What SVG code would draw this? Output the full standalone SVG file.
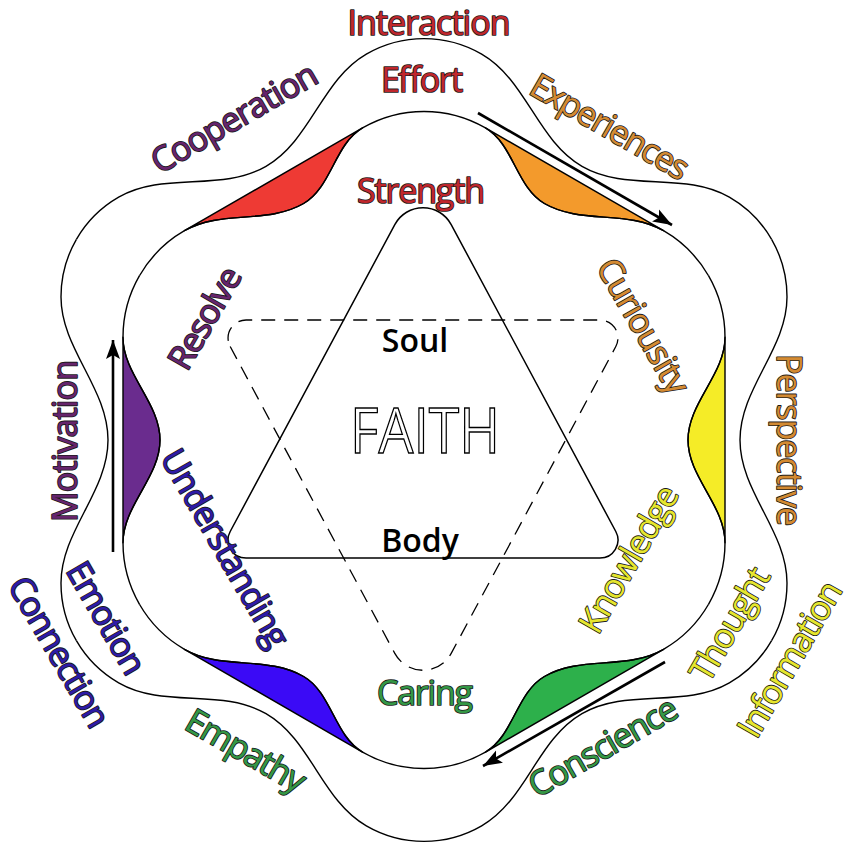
<svg xmlns="http://www.w3.org/2000/svg" width="856" height="846" viewBox="0 0 856 846">
<defs>
<style>
.ln{fill:none;stroke:#000;stroke-width:1.4}
.lens{stroke:#000;stroke-width:1.4;stroke-linejoin:round}
.tri{fill:none;stroke:#000;stroke-width:1.5}
.dash{fill:none;stroke:#000;stroke-width:1.3;stroke-dasharray:14 9}
.arr{fill:none;stroke:#000;stroke-width:2.6}
.lbl{font-family:"Open Sans","Noto Sans","Liberation Sans",sans-serif;font-size:34px;stroke:#1a1a1a;stroke-width:1.7;paint-order:stroke;stroke-linejoin:round;text-anchor:middle}
.r{fill:#C0272D}.p{fill:#66246C}.o{fill:#D38A32}.y{fill:#E6E62E}.g{fill:#349746}.b{fill:#2E1BA6}
.core{font-family:"Open Sans","Noto Sans","Liberation Sans",sans-serif;text-anchor:middle}
</style>
<marker id="ah" markerWidth="20" markerHeight="16" refX="19" refY="8" orient="auto" markerUnits="userSpaceOnUse">
<path d="M0,1 L19,8 L0,15 L4,8 Z" fill="#000"/>
</marker>
<path id="outer" class="ln" d="M347.6,-200.7 A115.3,115.3 0 0 1 363,-143 C363,-91 316,-52 316,0 C316,52 363,91 363,143 A115.3,115.3 0 0 1 347.6,200.7"/>
</defs>
<rect width="856" height="846" fill="#fff"/>

<g id="ring" transform="translate(424,440)">
 <g id="side-right">
  <path class="lens" fill="#F5EC27" d="M301,-102.8 C301,-65.4 264,-37.4 264,0 C264,37.4 301,65.4 301,102.8 Z"/>
  <path class="ln" d="M284.5,-164.3 A123,123 0 0 1 301,-102.8 C301,-65.4 264,-37.4 264,0 C264,37.4 301,65.4 301,102.8 A123,123 0 0 1 284.5,164.3"/>
  <use href="#outer"/>
 </g>
 <g id="side-upper-right" transform="rotate(-60)">
  <path class="lens" fill="#F39A2C" d="M301,-102.8 C301,-70.5 265,-46.3 265,-14 C265,28.4 301,60.4 301,102.8 Z"/>
  <path class="ln" d="M284.5,-164.3 A123,123 0 0 1 301,-102.8 C301,-70.5 265,-46.3 265,-14 C265,28.4 301,60.4 301,102.8 A123,123 0 0 1 284.5,164.3"/>
  <use href="#outer"/>
 </g>
 <g id="side-upper-left" transform="rotate(-120)">
  <path class="lens" fill="#EE3A34" d="M301,-102.8 C301,-60.4 265,-28.4 265,14 C265,46.3 301,70.5 301,102.8 Z"/>
  <path class="ln" d="M284.5,-164.3 A123,123 0 0 1 301,-102.8 C301,-60.4 265,-28.4 265,14 C265,46.3 301,70.5 301,102.8 A123,123 0 0 1 284.5,164.3"/>
  <use href="#outer"/>
 </g>
 <g id="side-left" transform="rotate(180)">
  <path class="lens" fill="#6A2C8E" d="M301,-102.8 C301,-65.4 264,-37.4 264,0 C264,37.4 301,65.4 301,102.8 Z"/>
  <path class="ln" d="M284.5,-164.3 A123,123 0 0 1 301,-102.8 C301,-65.4 264,-37.4 264,0 C264,37.4 301,65.4 301,102.8 A123,123 0 0 1 284.5,164.3"/>
  <use href="#outer"/>
 </g>
 <g id="side-lower-left" transform="rotate(120)">
  <path class="lens" fill="#3B0AF6" d="M301,-102.8 C301,-70.5 265,-46.3 265,-14 C265,28.4 301,60.4 301,102.8 Z"/>
  <path class="ln" d="M284.5,-164.3 A123,123 0 0 1 301,-102.8 C301,-70.5 265,-46.3 265,-14 C265,28.4 301,60.4 301,102.8 A123,123 0 0 1 284.5,164.3"/>
  <use href="#outer"/>
 </g>
 <g id="side-lower-right" transform="rotate(60)">
  <path class="lens" fill="#2DB04B" d="M301,-102.8 C301,-60.4 265,-28.4 265,14 C265,46.3 301,70.5 301,102.8 Z"/>
  <path class="ln" d="M284.5,-164.3 A123,123 0 0 1 301,-102.8 C301,-60.4 265,-28.4 265,14 C265,46.3 301,70.5 301,102.8 A123,123 0 0 1 284.5,164.3"/>
  <use href="#outer"/>
 </g>
</g>

<g id="triangle-solid">
 <path class="tri" d="M230.2,531.5 L394.8,224.6 A32,32 0 0 1 451.2,224.6 L615.8,531.5 A18,18 0 0 1 599.9,558 L246.1,558 A18,18 0 0 1 230.2,531.5 Z"/>
</g>
<g id="triangle-dashed">
 <path class="dash" d="M230.2,346.5 L394.8,653.4 A32,32 0 0 0 451.2,653.4 L615.8,346.5 A18,18 0 0 0 599.9,320 L246.1,320 A18,18 0 0 0 230.2,346.5 Z"/>
</g>

<g id="connectors">
 <path class="arr" d="M478,113 L672,225" marker-end="url(#ah)"/>
 <path class="arr" d="M113,552 L113,340" marker-end="url(#ah)"/>
 <path class="arr" d="M665,662 L483,766" marker-end="url(#ah)"/>
</g>

<g id="labels">
 <g id="t-interaction"><text class="lbl r" x="429" y="35" textLength="163">Interaction</text></g>
 <g id="t-effort"><text class="lbl r" x="422" y="92" textLength="82">Effort</text></g>
 <g id="t-strength"><text class="lbl r" x="421" y="203" textLength="128">Strength</text></g>
 <g id="t-cooperation"><text class="lbl p" transform="translate(240,128) rotate(-30)" textLength="186">Cooperation</text></g>
 <g id="t-experiences"><text class="lbl o" transform="translate(604,137) rotate(30)" textLength="177">Experiences</text></g>
 <g id="t-resolve"><text class="lbl p" transform="translate(215,324) rotate(-60)" textLength="112">Resolve</text></g>
 <g id="t-curiousity"><text class="lbl o" transform="translate(633,332) rotate(60)" textLength="150">Curiousity</text></g>
 <g id="t-perspective"><text class="lbl o" transform="translate(777,440) rotate(90)" textLength="172">Perspective</text></g>
 <g id="t-motivation"><text class="lbl p" transform="translate(77,441) rotate(-90)" textLength="162">Motivation</text></g>
 <g id="t-understanding"><text class="lbl b" transform="translate(215,554) rotate(60)" textLength="222">Understanding</text></g>
 <g id="t-knowledge"><text class="lbl y" transform="translate(639,565) rotate(-60)" textLength="164">Knowledge</text></g>
 <g id="t-thought"><text class="lbl y" transform="translate(740,630) rotate(-60)" textLength="125">Thought</text></g>
 <g id="t-information"><text class="lbl y" transform="translate(800,665) rotate(-60)" textLength="174">Information</text></g>
 <g id="t-emotion"><text class="lbl b" transform="translate(96,624) rotate(60)" textLength="124">Emotion</text></g>
 <g id="t-connection"><text class="lbl b" transform="translate(49,658) rotate(60)" textLength="168">Connection</text></g>
 <g id="t-empathy"><text class="lbl g" transform="translate(240,761) rotate(30)" textLength="132">Empathy</text></g>
 <g id="t-caring"><text class="lbl g" x="425" y="705" textLength="96">Caring</text></g>
 <g id="t-conscience"><text class="lbl g" transform="translate(609,757) rotate(-30)" textLength="166">Conscience</text></g>
 <g id="t-soul"><text class="core" x="415" y="352" font-size="32" font-weight="600" fill="#000">Soul</text></g>
 <g id="t-faith"><text class="core" x="425" y="453" font-size="63" fill="#fff" stroke="#000" stroke-width="1.4" textLength="150" lengthAdjust="spacingAndGlyphs">FAITH</text></g>
 <g id="t-body"><text class="core" x="420" y="552" font-size="32" font-weight="600" fill="#000">Body</text></g>
</g>
</svg>
